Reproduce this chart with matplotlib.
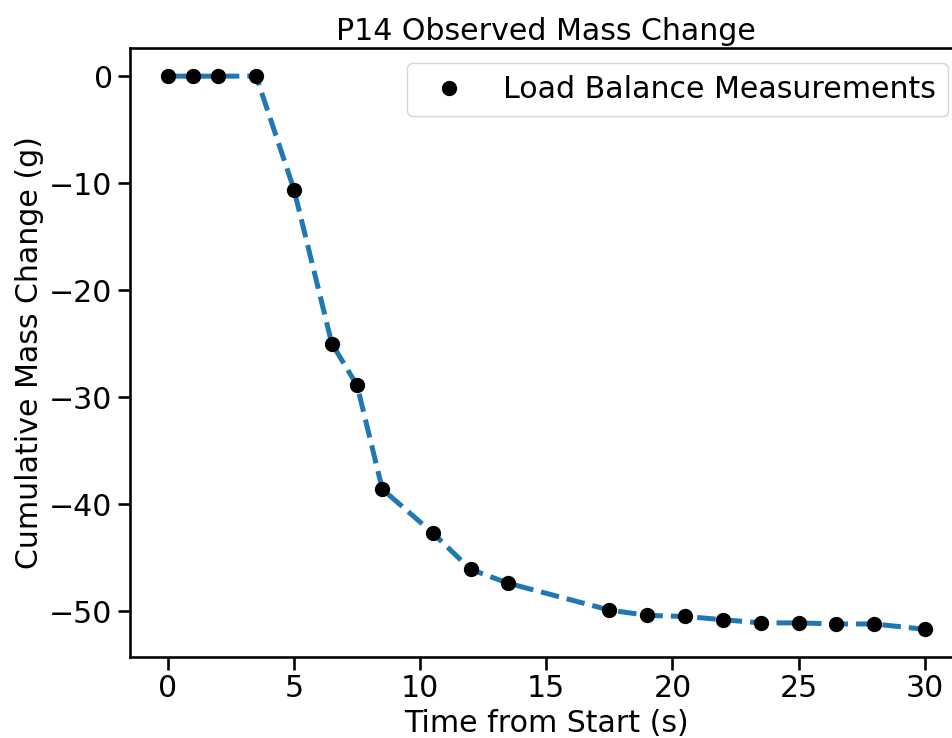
import matplotlib
matplotlib.use('Agg')
import matplotlib.pyplot as plt

# time (s) and cumulative mass change (g) read from the load balance
time_s = [0, 1, 2, 3.5, 5, 6.5, 7.5, 8.5, 10.5, 12, 13.5, 17.5, 19, 20.5, 22, 23.5, 25, 26.5, 28, 30]
mass_g = [0, 0, 0, 0, -10.6, -25.0, -28.9, -38.6, -42.7, -46.1, -47.4, -49.9, -50.4, -50.5,
          -50.8, -51.1, -51.1, -51.2, -51.2, -51.7]

plt.rcParams.update({
    'font.size': 21.6,
    'axes.titlesize': 21.6,
    'axes.labelsize': 21.6,
    'xtick.labelsize': 21.6,
    'ytick.labelsize': 21.6,
    'legend.fontsize': 21.6,
    'xtick.major.size': 9,
    'ytick.major.size': 9,
    'xtick.major.width': 1.875,
    'ytick.major.width': 1.875,
    'axes.linewidth': 1.875,
})

fig = plt.figure(figsize=(9.53, 7.38), dpi=100)
# right spine runs past the figure edge in the original
ax = fig.add_axes([0.1364, 0.1098, 0.8737, 0.8245])

ax.plot(time_s, mass_g, '--', color='#1f77b4', linewidth=3.6)
ax.plot(time_s, mass_g, 'o', color='black', markersize=10, label='Load Balance Measurements')

ax.set_xlabel('Time from Start (s)')
ax.set_ylabel('Cumulative Mass Change (g)')
ax.set_title('P14 Observed Mass Change')
ax.legend(loc='upper right')

fig.savefig('out.png', dpi=100)
